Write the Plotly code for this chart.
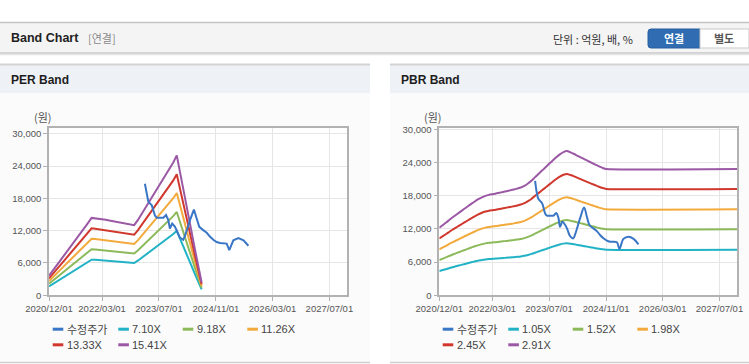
import pandas as pd
import plotly.graph_objects as go

W, H = 749, 364

# ---------------- data ----------------
eps_months = pd.date_range("2020-12-01", "2024-07-01", freq="MS")
eps = [235, 293, 352, 410, 468, 525, 582, 640, 700, 757, 815, 872, 932,
       928, 920, 915, 910, 902, 895, 888, 880, 872, 862, 852, 845,
       905, 975, 1040, 1110, 1170, 1245, 1310, 1380, 1450, 1520, 1600, 1685,
       1470, 1240, 1020, 800, 580, 370, 155]
per_multiples = [7.10, 9.18, 11.26, 13.33, 15.41]
per_labels = ["7.10X", "9.18X", "11.26X", "13.33X", "15.41X"]

bps_months = list(pd.date_range("2020-12-01", "2024-11-01", freq="MS")) + [pd.Timestamp("2027-11-29")]
bps = [4200, 4370, 4540, 4710, 4880, 5040, 5200, 5360, 5520, 5680, 5830, 5970, 6090,
       6180, 6240, 6280, 6320, 6370, 6420, 6470, 6520, 6570, 6630, 6700, 6800,
       6950, 7130, 7330, 7540, 7750, 7960, 8170, 8380, 8580, 8760, 8900, 8960,
       8880, 8780, 8670, 8560, 8450, 8340, 8230, 8120, 8010, 7920, 7850, 7850]
pbr_multiples = [1.05, 1.52, 1.98, 2.45, 2.91]
pbr_labels = ["1.05X", "1.52X", "1.98X", "2.45X", "2.91X"]

price_dates = ["2023-03-03", "2023-03-18", "2023-04-01", "2023-05-01", "2023-05-28",
               "2023-06-12", "2023-07-10", "2023-08-08", "2023-08-31", "2023-09-19",
               "2023-10-03", "2023-10-23", "2023-11-16", "2023-12-03", "2023-12-28",
               "2024-01-25", "2024-02-09", "2024-03-24", "2024-04-26", "2024-05-19",
               "2024-06-11", "2024-07-15", "2024-08-14", "2024-09-10", "2024-10-09",
               "2024-11-07", "2024-12-05", "2025-02-01", "2025-02-23", "2025-03-30",
               "2025-05-12", "2025-06-25", "2025-08-06"]
price = [20700, 18500, 17400, 16700, 14800, 14400, 14400, 14400, 14900, 14000,
         12400, 13300, 12700, 12000, 10700, 10300, 11000, 14000, 15900, 14300,
         12700, 12100, 11600, 10900, 10300, 9900, 9700, 9600, 8400, 10200,
         10600, 10200, 9200]

x_tickvals = ["2020-12-01", "2022-03-01", "2023-07-01", "2024-11-01", "2026-03-01", "2027-07-01"]
x_ticktext = ["2020/12/01", "2022/03/01", "2023/07/01", "2024/11/01", "2026/03/01", "2027/07/01"]
y_tickvals = [0, 6000, 12000, 18000, 24000, 30000]
y_ticktext = ["0", "6,000", "12,000", "18,000", "24,000", "30,000"]

band_colors = ["#22b2c6", "#8cba5a", "#f3aa3c", "#d0382d", "#9b58a4"]
price_color = "#3a76c6"

# ---------------- helpers ----------------
def px(x):
    return x / W

def py(y):
    return 1 - y / H

FONT = "Liberation Sans, Arial, Noto Sans CJK KR, sans-serif"
KFONT = "Noto Sans CJK KR, Liberation Sans, sans-serif"

fig = go.Figure()

for m, lab, col in zip(per_multiples, per_labels, band_colors):
    fig.add_trace(go.Scatter(x=eps_months, y=[m * e for e in eps], mode="lines",
                             line=dict(color=col, width=2), name=lab,
                             showlegend=False, xaxis="x", yaxis="y", hoverinfo="skip"))
fig.add_trace(go.Scatter(x=price_dates, y=price, mode="lines",
                         line=dict(color=price_color, width=2), name="수정주가",
                         showlegend=False, xaxis="x", yaxis="y"))

for m, lab, col in zip(pbr_multiples, pbr_labels, band_colors):
    fig.add_trace(go.Scatter(x=bps_months, y=[m * b for b in bps], mode="lines",
                             line=dict(color=col, width=2, shape="spline", smoothing=0.5), name=lab,
                             showlegend=False, xaxis="x2", yaxis="y2", hoverinfo="skip"))
fig.add_trace(go.Scatter(x=price_dates, y=price, mode="lines",
                         line=dict(color=price_color, width=2, shape="spline", smoothing=1.0),
                         name="수정주가", showlegend=False, xaxis="x2", yaxis="y2"))

ydom = [py(295.3), py(128.3)]

def xaxis_cfg(l, r, anchor):
    return dict(domain=[px(l), px(r)], type="date", range=["2020-12-01", "2027-11-29"], anchor=anchor,
                tickvals=x_tickvals, ticktext=x_ticktext, automargin=False,
                showgrid=True, gridcolor="#e6e6e6", gridwidth=1,
                showline=True, linecolor="#b2b2b2", linewidth=1.5, mirror=True,
                ticks="outside", ticklen=4, tickcolor="#b2b2b2",
                tickfont=dict(family=FONT, size=9.5, color="#555555"), zeroline=False,
                fixedrange=True)

def yaxis_cfg(anchor, top):
    return dict(domain=ydom, range=[0, top], anchor=anchor, automargin=False,
                tickvals=y_tickvals, ticktext=y_ticktext,
                showgrid=True, gridcolor="#e6e6e6", gridwidth=1,
                showline=True, linecolor="#b2b2b2", linewidth=1.5, mirror=True,
                ticks="outside", ticklen=4, tickcolor="#b2b2b2",
                tickfont=dict(family=FONT, size=9.5, color="#555555"), zeroline=False,
                fixedrange=True)

shapes = []
shapes.append(dict(type="rect", xref="paper", yref="paper", x0=0, x1=1, y0=py(54), y1=py(22),
                   fillcolor="#f4f4f4", line=dict(width=0), layer="below"))
shapes.append(dict(type="line", xref="paper", yref="paper", x0=0, x1=1, y0=py(22.5), y1=py(22.5),
                   line=dict(color="#c4c4c4", width=1.5), layer="below"))
shapes.append(dict(type="line", xref="paper", yref="paper", x0=0, x1=1, y0=py(53), y1=py(53),
                   line=dict(color="#c8c8c8", width=1.5), layer="below"))
shapes.append(dict(type="line", xref="paper", yref="paper", x0=0, x1=1, y0=py(54.5), y1=py(54.5),
                   line=dict(color="#e4e4e4", width=1.5), layer="below"))
shapes.append(dict(type="path", xref="paper", yref="paper",
                   path=f"M {px(700)},{py(29)} L {px(651)},{py(29)} Q {px(648)},{py(29)} {px(648)},{py(32)} "
                        f"L {px(648)},{py(45)} Q {px(648)},{py(48)} {px(651)},{py(48)} L {px(700)},{py(48)} Z",
                   fillcolor="#2f6cb2", line=dict(color="#285f9e", width=1), layer="below"))
shapes.append(dict(type="path", xref="paper", yref="paper",
                   path=f"M {px(700)},{py(29)} L {px(749)},{py(29)} L {px(749)},{py(48)} L {px(700)},{py(48)} Z",
                   fillcolor="#ffffff", line=dict(color="#c9c9c9", width=1), layer="below"))

for l, r in [(0, 370), (390, 749)]:
    shapes.append(dict(type="rect", xref="paper", yref="paper", x0=px(l), x1=px(r), y0=py(362), y1=py(93),
                       fillcolor="#fbfbfb", line=dict(width=0), layer="below"))
    shapes.append(dict(type="rect", xref="paper", yref="paper", x0=px(l), x1=px(r), y0=py(93), y1=py(64),
                       fillcolor="#eef1f6", line=dict(width=0), layer="below"))
    shapes.append(dict(type="line", xref="paper", yref="paper", x0=px(l), x1=px(r), y0=py(64.5), y1=py(64.5),
                       line=dict(color="#d3d3d3", width=2), layer="below"))
    shapes.append(dict(type="line", xref="paper", yref="paper", x0=px(l), x1=px(r), y0=py(362.5), y1=py(362.5),
                       line=dict(color="#cfcfcf", width=1.5), layer="below"))
for l, r in [(49, 347), (439.3, 737)]:
    shapes.append(dict(type="rect", xref="paper", yref="paper", x0=px(l), x1=px(r), y0=py(295.3), y1=py(128.3),
                       fillcolor="#ffffff", line=dict(width=0), layer="below"))

annotations = []
def txt(x, y, s, size=11, color="#333333", anchor="left", family=KFONT, bold=False, height=None):
    a = dict(x=px(x), y=py(y), xref="paper", yref="paper", text=(f"<b>{s}</b>" if bold else s),
             showarrow=False, xanchor=anchor, yanchor="middle", borderpad=0,
             font=dict(family=family, size=size, color=color))
    if height:
        a["height"] = height
    annotations.append(a)

txt(10, 38.5, "Band Chart", size=12.5, color="#1e1e1e", family=FONT, bold=True)
txt(87, 38.5, "[연결]", size=11, color="#8a8a8a")
txt(552, 39, "단위 : 억원, 배, %", size=11, color="#333333")
txt(674, 38.5, "연결", size=11, color="#ffffff", anchor="center", bold=True)
txt(724, 38.5, "별도", size=11, color="#555555", anchor="center", bold=True)
txt(10, 79.5, "PER Band", size=12, color="#1e1e1e", family=FONT, bold=True)
txt(400, 79.5, "PBR Band", size=12, color="#1e1e1e", family=FONT, bold=True)
txt(33, 117.5, "(원)", size=11, color="#555555")
txt(423, 117.5, "(원)", size=11, color="#555555")

legend_names = [["수정주가"] + per_labels, ["수정주가"] + pbr_labels]
legend_cols = [price_color] + band_colors
slots = [(52.7, 329.2), (118.3, 329.2), (182.7, 329.2), (247.3, 329.2), (52.7, 344.8), (118.3, 344.8)]
for off, names in zip([0, 390], legend_names):
    for (sx, sy), name, col in zip(slots, names, legend_cols):
        shapes.append(dict(type="line", xref="paper", yref="paper", x0=px(off + sx), x1=px(off + sx + 10.6),
                           y0=py(sy), y1=py(sy), line=dict(color=col, width=3)))
        fam = KFONT if name == "수정주가" else FONT
        txt(off + sx + 13, sy, name, size=11, color="#444444", family=fam)

fig.update_layout(
    width=W, height=H, margin=dict(l=0, r=0, t=0, b=0, pad=0, autoexpand=False),
    paper_bgcolor="#ffffff", plot_bgcolor="rgba(0,0,0,0)",
    xaxis=xaxis_cfg(49, 347, "y"), yaxis=yaxis_cfg("x", 31000),
    xaxis2=xaxis_cfg(439.3, 737, "y2"), yaxis2=yaxis_cfg("x2", 30200),
    shapes=shapes, annotations=annotations, showlegend=False,
    font=dict(family=FONT),
)

fig.write_html("out.html", config={"displayModeBar": False},
               post_script="document.body.style.margin='0';document.body.style.overflow='hidden';")
